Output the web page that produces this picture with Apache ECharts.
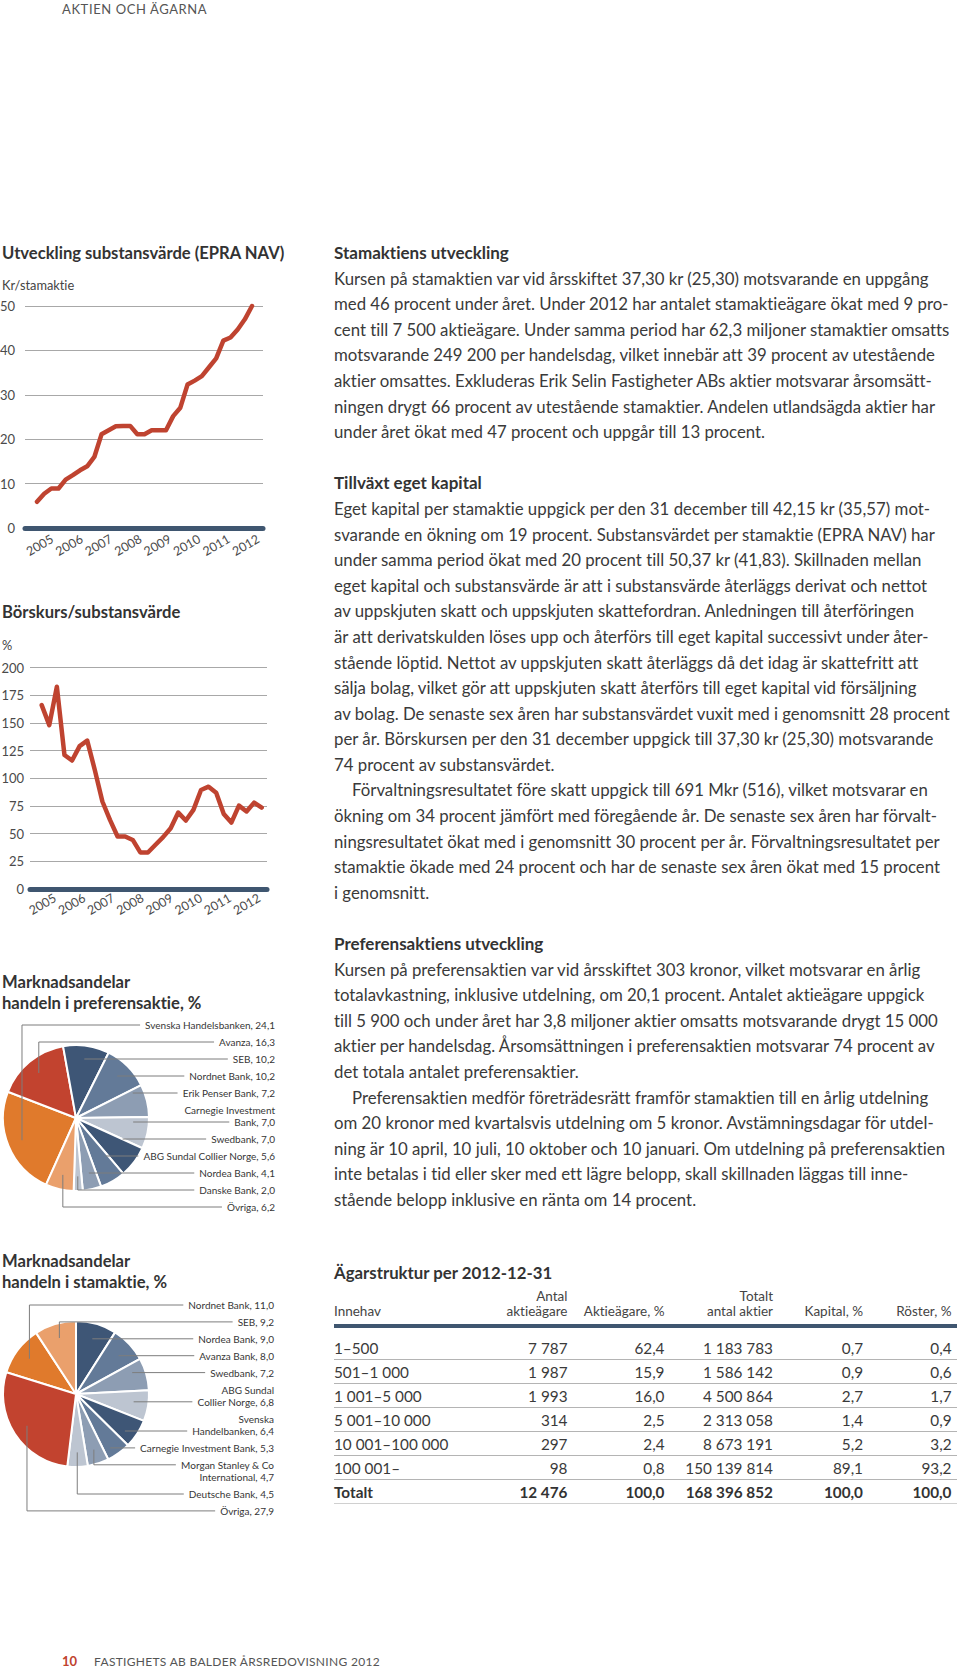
<!DOCTYPE html>
<html><head><meta charset="utf-8">
<script src="https://cdn.jsdelivr.net/npm/echarts@6/dist/echarts.min.js"></script>
<style>
html,body{margin:0;padding:0;background:#fff;}
*{font-variant-ligatures:none !important;font-feature-settings:"liga" 0,"clig" 0,"dlig" 0 !important;}
#chart text{font-variant-ligatures:none !important;font-feature-settings:"liga" 0,"clig" 0,"dlig" 0 !important;}
body{width:960px;height:1673px;position:relative;overflow:hidden;font-family:Lato,'Noto Sans',sans-serif;color:#333;}
#chart{position:absolute;left:0;top:0;width:960px;height:1673px;}
.abs{position:absolute;white-space:nowrap;}
#hdr{left:62px;top:1px;font-size:13px;line-height:16px;letter-spacing:0.6px;color:#555;}
#ftr{left:62px;top:1653px;font-size:12px;line-height:16px;letter-spacing:0.3px;color:#555;}
#ftr b{color:#c0432e;margin-right:17px;letter-spacing:0;font-size:13px;}
#body{left:334px;top:240px;font-size:16.8px;line-height:25.6px;color:#3a3a3a;}
#body b{color:#333;font-size:17px;}
.ind{padding-left:18px;}
.tt{position:absolute;left:334px;top:1262px;font-weight:bold;font-size:16.8px;line-height:21px;color:#333;white-space:nowrap;}
.hrow{position:absolute;left:334px;width:623px;height:15px;line-height:15px;font-size:13.5px;color:#444;}
.row{position:absolute;left:334px;width:623px;height:24px;line-height:24px;font-size:15.3px;color:#3a3a3a;border-bottom:1.5px solid #b4b4b4;box-sizing:border-box;}
.row span,.hrow span{position:absolute;white-space:nowrap;}
.thick{position:absolute;left:334px;width:623px;top:1324px;height:4px;background:#3f5670;}
</style></head><body>
<div id="chart"></div>
<div class="abs" id="hdr">AKTIEN OCH ÄGARNA</div>
<div class="abs" id="ftr"><b>10</b>FASTIGHETS AB BALDER ÅRSREDOVISNING 2012</div>
<div class="abs" id="body">
<b>Stamaktiens utveckling</b><br>
Kursen på stamaktien var vid årsskiftet 37,30 kr (25,30) motsvarande en uppgång<br>
med 46 procent under året. Under 2012 har antalet stamaktieägare ökat med 9 pro-<br>
cent till 7 500 aktieägare. Under samma period har 62,3 miljoner stamaktier omsatts<br>
motsvarande 249 200 per handelsdag, vilket innebär att 39 procent av utestående<br>
aktier omsattes. Exkluderas Erik Selin Fastigheter ABs aktier motsvarar årsomsätt-<br>
ningen drygt 66 procent av utestående stamaktier. Andelen utlandsägda aktier har<br>
under året ökat med 47 procent och uppgår till 13 procent.<br>
<br>
<b>Tillväxt eget kapital</b><br>
Eget kapital per stamaktie uppgick per den 31 december till 42,15 kr (35,57) mot-<br>
svarande en ökning om 19 procent. Substansvärdet per stamaktie (EPRA NAV) har<br>
under samma period ökat med 20 procent till 50,37 kr (41,83). Skillnaden mellan<br>
eget kapital och substansvärde är att i substansvärde återläggs derivat och nettot<br>
av uppskjuten skatt och uppskjuten skattefordran. Anledningen till återföringen<br>
är att derivatskulden löses upp och återförs till eget kapital successivt under åter-<br>
stående löptid. Nettot av uppskjuten skatt återläggs då det idag är skattefritt att<br>
sälja bolag, vilket gör att uppskjuten skatt återförs till eget kapital vid försäljning<br>
av bolag. De senaste sex åren har substansvärdet vuxit med i genomsnitt 28 procent<br>
per år. Börskursen per den 31 december uppgick till 37,30 kr (25,30) motsvarande<br>
74 procent av substansvärdet.<br>
<span class="ind"></span>Förvaltningsresultatet före skatt uppgick till 691 Mkr (516), vilket motsvarar en<br>
ökning om 34 procent jämfört med föregående år. De senaste sex åren har förvalt-<br>
ningsresultatet ökat med i genomsnitt 30 procent per år. Förvaltningsresultatet per<br>
stamaktie ökade med 24 procent och har de senaste sex åren ökat med 15 procent<br>
i genomsnitt.<br>
<br>
<b>Preferensaktiens utveckling</b><br>
Kursen på preferensaktien var vid årsskiftet 303 kronor, vilket motsvarar en årlig<br>
totalavkastning, inklusive utdelning, om 20,1 procent. Antalet aktieägare uppgick<br>
till 5 900 och under året har 3,8 miljoner aktier omsatts motsvarande drygt 15 000<br>
aktier per handelsdag. Årsomsättningen i preferensaktien motsvarar 74 procent av<br>
det totala antalet preferensaktier.<br>
<span class="ind"></span>Preferensaktien medför företrädesrätt framför stamaktien till en årlig utdelning<br>
om 20 kronor med kvartalsvis utdelning om 5 kronor. Avstämningsdagar för utdel-<br>
ning är 10 april, 10 juli, 10 oktober och 10 januari. Om utdelning på preferensaktien<br>
inte betalas i tid eller sker med ett lägre belopp, skall skillnaden läggas till inne-<br>
stående belopp inklusive en ränta om 14 procent.
</div>
<div id="table"></div>
<script>
// ---------- DATA ----------
const yearLabels = ['2005', '2006', '2007', '2008', '2009', '2010', '2011', '2012'];
// Substansvärde (EPRA NAV), kr per stamaktie
const navValues = [5.9, 7.7, 8.9, 8.9, 10.9, 11.9, 13.0, 13.9, 16.0, 21.1, 22.0, 22.9, 23.0, 23.0, 21.1, 21.1,
  22.0, 22.0, 22.0, 25.2, 27.1, 32.3, 33.2, 34.2, 36.2, 38.2, 42.2, 42.9, 44.7, 47.0, 50.0];
// Börskurs / substansvärde, %
const ratioValues = [166, 148, 182.6, 121, 116, 129, 134, 107.5, 79, 62.4, 47.4, 47.4, 44.3, 33, 33, 40,
  46.8, 54.9, 69, 61.8, 71.4, 89.4, 92.4, 87, 67.8, 60, 75.3, 70, 78, 73.5];

// Marknadsandelar handeln i preferensaktie, %
const prefNames = ['Svenska Handelsbanken', 'Avanza', 'SEB', 'Nordnet Bank', 'Erik Penser Bank',
  'Carnegie Investment\nBank', 'Swedbank', 'ABG Sundal Collier Norge', 'Nordea Bank', 'Danske Bank', 'Övriga'];
const prefValues = [24.1, 16.3, 10.2, 10.2, 7.2, 7.0, 7.0, 5.6, 4.1, 2.0, 6.2];

// Marknadsandelar handeln i stamaktie, %
const stamNames = ['Nordnet Bank', 'SEB', 'Nordea Bank', 'Avanza Bank', 'Swedbank', 'ABG Sundal\nCollier Norge',
  'Svenska\nHandelbanken', 'Carnegie Investment Bank', 'Morgan Stanley & Co\nInternational', 'Deutsche Bank', 'Övriga'];
const stamValues = [11.0, 9.2, 9.0, 8.0, 7.2, 6.8, 6.4, 5.3, 4.7, 4.5, 27.9];

// Ägarstruktur per 2012-12-31
const tblHead = [['', 'Innehav'], ['Antal', 'aktieägare'], ['', 'Aktieägare, %'], ['Totalt', 'antal aktier'], ['', 'Kapital, %'], ['', 'Röster, %']];
const holdBands = ['1–500', '501–1 000', '1 001–5 000', '5 001–10 000', '10 001–100 000', '100 001–'];
const holders = ['7 787', '1 987', '1 993', '314', '297', '98'];
const holderPct = ['62,4', '15,9', '16,0', '2,5', '2,4', '0,8'];
const shareCounts = ['1 183 783', '1 586 142', '4 500 864', '2 313 058', '8 673 191', '150 139 814'];
const capitalPct = ['0,7', '0,9', '2,7', '1,4', '5,2', '89,1'];
const votesPct = ['0,4', '0,6', '1,7', '0,9', '3,2', '93,2'];
const totals = ['Totalt', '12 476', '100,0', '168 396 852', '100,0', '100,0'];

// ---------- STYLE ----------
const C = { dark: '#3e5676', slate: '#637a98', mid: '#8d9db3', light: '#bdc5d1', red: '#c2432f', orange: '#e07a2c', lorange: '#eaa06c' };
const pie1Colors = [C.orange, C.red, C.dark, C.slate, C.mid, C.light, C.dark, C.slate, C.mid, C.light, C.lorange];
const pie2Colors = [C.orange, C.lorange, C.dark, C.slate, C.mid, C.light, C.dark, C.slate, C.mid, C.light, C.red];
const lineColor = '#bf4330', baseColor = '#3f5670', gridColor = '#a8a8a8';

// ---------- TABLE ----------
(function () {
  const host = document.getElementById('table');
  const rights = [null, 389.5, 292.5, 184, 94, 5.5];
  let h = '<div class="tt">Ägarstruktur per 2012-12-31</div>';
  [0, 1].forEach(r => {
    h += '<div class="hrow" style="top:' + (1288.5 + r * 15) + 'px">';
    tblHead.forEach((c, i) => {
      if (!c[r]) return;
      h += '<span style="' + (i === 0 ? 'left:0' : 'right:' + rights[i] + 'px') + '">' + c[r] + '</span>';
    });
    h += '</div>';
  });
  h += '<div class="thick"></div>';
  const rows = holdBands.map((b, i) => [b, holders[i], holderPct[i], shareCounts[i], capitalPct[i], votesPct[i]]);
  rows.push(totals);
  rows.forEach((r, k) => {
    const bold = k === rows.length - 1;
    h += '<div class="row" style="top:' + (1336 + k * 24) + 'px;' + (bold ? 'font-weight:bold;color:#333;border-bottom-color:#d0d0d0;' : '') + '">';
    r.forEach((c, i) => {
      h += '<span style="' + (i === 0 ? 'left:0' : 'right:' + rights[i] + 'px') + '">' + c + '</span>';
    });
    h += '</div>';
  });
  host.innerHTML = h;
})();

// ---------- CHART ----------
const chart = echarts.init(document.getElementById('chart'), null, { renderer: 'svg' });
const fmt = v => v.toFixed(1).replace('.', ',');
const mctx = document.createElement('canvas').getContext('2d');

function pieNotes(names, values, L) {
  const els = [];
  const total = values.reduce((a, b) => a + b, 0);
  let cum = 0, y = L.firstY;
  const startCw = 90 - L.startAngle;
  names.forEach((name, i) => {
    const lines = (name + ', ' + fmt(values[i])).split('\n');
    const ys = lines.map((_, k) => y + k * L.inner);
    y = ys[ys.length - 1] + L.step;
    lines.forEach((t, k) => els.push({
      type: 'text', z: 120,
      style: { text: t, x: L.labelX, y: ys[k], textAlign: 'right', textVerticalAlign: 'middle', align: 'right', verticalAlign: 'middle', font: L.font, fill: '#363636' }
    }));
    const row = (L.leaderRow[i] !== undefined) ? L.leaderRow[i] : lines.length - 1;
    mctx.font = L.font;
    const ly = ys[row];
    const x0 = L.labelX - mctx.measureText(lines[row]).width - 5;
    const th = (startCw + (cum + values[i] / 2) / total * 360) * Math.PI / 180;
    cum += values[i];
    const px = L.cx + 0.8 * L.r * Math.sin(th), py = L.cy - 0.8 * L.r * Math.cos(th);
    const right = Math.sin(th) > 0.05;
    const inside = Math.hypot(px - L.cx, ly - L.cy) < 0.95 * L.r;
    const pts = (right && inside) ? [[x0, ly], [px, ly]] : [[x0, ly], [px, ly], [px, py]];
    els.push({ type: 'polyline', z: 110, shape: { points: pts }, style: { stroke: '#7d7d7d', lineWidth: 1, fill: null } });
  });
  return els;
}

const P1 = { cx: 76, cy: 1118, r: 73, startAngle: 245.8, labelX: 275, firstY: 1025, step: 17, inner: 12, leaderRow: {}, font: '10px Lato' };
const P2 = { cx: 76, cy: 1394, r: 73, startAngle: 162.7, labelX: 274, firstY: 1305, step: 16.9, inner: 12.3, leaderRow: { 8: 0 }, font: '10px Lato' };

const lbl = { fontFamily: 'Lato', color: '#4a4a4a' };
const titleStyle = { fontFamily: 'Lato', fontWeight: 'bold', fontSize: 16.6, lineHeight: 18, color: '#333' };
const unitStyle = { fontFamily: 'Lato', fontWeight: 'normal', fontSize: 12.8, lineHeight: 15, color: '#444' };

function axesGrid(gi, max, interval, margin) {
  return {
    x: { gridIndex: gi, type: 'value', min: 0, max: 1, axisLine: { show: true, onZero: false, lineStyle: { color: baseColor, width: 5 } }, axisTick: { show: false }, axisLabel: { show: false }, splitLine: { show: false } },
    y: { gridIndex: gi, type: 'value', min: 0, max: max, interval: interval, axisLine: { show: false }, axisTick: { show: false },
      splitLine: { lineStyle: { color: gridColor, width: 1.2 } }, axisLabel: Object.assign({ fontSize: 13, margin: margin }, lbl) }
  };
}
function dataGrid(gi, n, max) {
  return {
    x: { gridIndex: gi, type: 'category', data: Array.from({ length: n }, (_, i) => String(i)), boundaryGap: false, show: false },
    y: { gridIndex: gi, type: 'value', min: 0, max: max, show: false }
  };
}
function yearGrid(gi) {
  return {
    x: { gridIndex: gi, type: 'category', data: yearLabels, boundaryGap: false, axisLine: { show: false }, axisTick: { show: false }, splitLine: { show: false },
      axisLabel: Object.assign({ interval: 0, rotate: 30, align: 'center', verticalAlign: 'middle', margin: 7, fontSize: 12.5 }, lbl) },
    y: { gridIndex: gi, type: 'value', show: false }
  };
}

const a0 = axesGrid(0, 50, 10, 10), d1 = dataGrid(1, navValues.length, 50), y2 = yearGrid(2);
const a3 = axesGrid(3, 200, 25, 6), d4 = dataGrid(4, ratioValues.length, 200), y5 = yearGrid(5);

const gridBase = { outerBoundsMode: 'none', containLabel: false };
const option = {
  animation: false,
  textStyle: { fontFamily: 'Lato' },
  title: [
    { text: 'Utveckling substansvärde (EPRA NAV)', left: 2, top: 244, padding: 0, textStyle: titleStyle },
    { text: 'Kr/stamaktie', left: 2, top: 277, padding: 0, textStyle: unitStyle },
    { text: 'Börskurs/substansvärde', left: 2, top: 603, padding: 0, textStyle: titleStyle },
    { text: '%', left: 2, top: 637, padding: 0, textStyle: unitStyle },
    { text: 'Marknadsandelar\nhandeln i preferensaktie, %', left: 2, top: 972, padding: 0, textStyle: Object.assign({}, titleStyle, { lineHeight: 20.5 }) },
    { text: 'Marknadsandelar\nhandeln i stamaktie, %', left: 2, top: 1250.5, padding: 0, textStyle: Object.assign({}, titleStyle, { lineHeight: 21 }) }
  ],
  grid: [
    Object.assign({ left: 25, top: 306, width: 238, height: 222 }, gridBase),
    Object.assign({ left: 37, top: 306, width: 215, height: 222 }, gridBase),
    Object.assign({ left: 39.7, top: 500, width: 206, height: 38 }, gridBase),
    Object.assign({ left: 30, top: 667.5, width: 237, height: 221.5 }, gridBase),
    Object.assign({ left: 41.7, top: 667.5, width: 220, height: 221.5 }, gridBase),
    Object.assign({ left: 42.5, top: 857, width: 204.2, height: 40 }, gridBase)
  ],
  xAxis: [a0.x, d1.x, y2.x, a3.x, d4.x, y5.x],
  yAxis: [a0.y, d1.y, y2.y, a3.y, d4.y, y5.y],
  series: [
    { type: 'line', name: 'Substansvärde', xAxisIndex: 1, yAxisIndex: 1, data: navValues, symbol: 'none', clip: false, z: 5,
      lineStyle: { color: lineColor, width: 4.5, join: 'round', cap: 'round' } },
    { type: 'line', name: 'Börskurs/substansvärde', xAxisIndex: 4, yAxisIndex: 4, data: ratioValues, symbol: 'none', clip: false, z: 5,
      lineStyle: { color: lineColor, width: 4.5, join: 'round', cap: 'round' } },
    { type: 'pie', name: 'Preferensaktie', center: [P1.cx, P1.cy], radius: P1.r, startAngle: P1.startAngle, clockwise: true, silent: true,
      avoidLabelOverlap: false, label: { show: false }, labelLine: { show: false },
      itemStyle: { borderColor: '#fff', borderWidth: 2 },
      data: prefNames.map((n, i) => ({ name: n, value: prefValues[i], itemStyle: { color: pie1Colors[i] } })) },
    { type: 'pie', name: 'Stamaktie', center: [P2.cx, P2.cy], radius: P2.r, startAngle: P2.startAngle, clockwise: true, silent: true,
      avoidLabelOverlap: false, label: { show: false }, labelLine: { show: false },
      itemStyle: { borderColor: '#fff', borderWidth: 2 },
      data: stamNames.map((n, i) => ({ name: n, value: stamValues[i], itemStyle: { color: pie2Colors[i] } })) }
  ],
  graphic: { elements: pieNotes(prefNames, prefValues, P1).concat(pieNotes(stamNames, stamValues, P2)) }
};
chart.setOption(option);
</script>
</body></html>
